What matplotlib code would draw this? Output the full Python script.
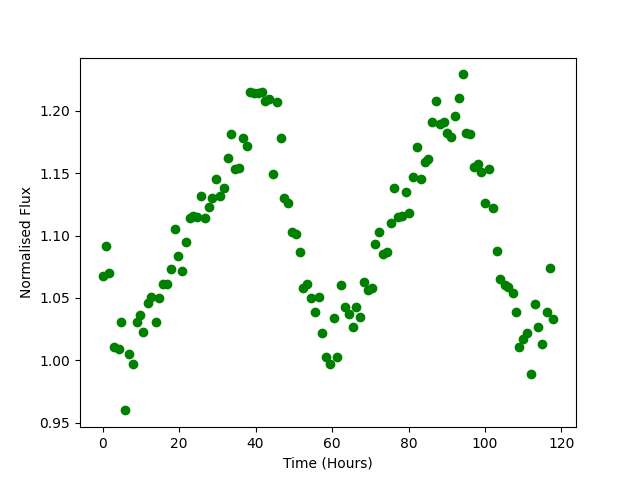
import matplotlib
matplotlib.use("Agg")
import matplotlib.pyplot as plt

# time (hours) and normalised flux
time = [0.0, 0.8, 1.8, 3.1, 4.2, 4.7, 5.8, 6.8, 7.9, 8.9,
        9.7, 10.7, 11.8, 12.8, 13.9, 14.7, 15.7, 16.8, 17.8, 18.9,
        19.6, 20.7, 21.7, 22.8, 23.6, 24.6, 25.7, 26.7, 27.8, 28.6,
        29.6, 30.7, 31.7, 32.7, 33.5, 34.6, 35.6, 36.7, 37.7, 38.5,
        39.6, 40.6, 41.7, 42.4, 43.5, 44.5, 45.6, 46.6, 47.4, 48.5,
        49.5, 50.6, 51.6, 52.4, 53.4, 54.5, 55.5, 56.6, 57.4, 58.4,
        59.5, 60.5, 61.3, 62.4, 63.4, 64.4, 65.5, 66.3, 67.3, 68.4,
        69.4, 70.5, 71.3, 72.3, 73.4, 74.4, 75.5, 76.2, 77.3, 78.3,
        79.4, 80.2, 81.2, 82.3, 83.3, 84.4, 85.1, 86.2, 87.2, 88.3,
        89.3, 90.1, 91.2, 92.2, 93.3, 94.3, 95.1, 96.1, 97.2, 98.2,
        99.0, 100.1, 101.1, 102.2, 103.2, 104.0, 105.1, 106.1, 107.2, 108.2,
        109.0, 110.0, 111.1, 112.1, 113.2, 113.9, 115.0, 116.1, 117.1, 117.9]
flux = [1.068, 1.092, 1.070, 1.011, 1.009, 1.031, 0.960, 1.005, 0.997, 1.031,
        1.036, 1.023, 1.046, 1.051, 1.031, 1.050, 1.061, 1.061, 1.073, 1.105,
        1.084, 1.072, 1.095, 1.114, 1.116, 1.115, 1.132, 1.114, 1.123, 1.130,
        1.145, 1.132, 1.138, 1.162, 1.181, 1.153, 1.154, 1.178, 1.172, 1.215,
        1.214, 1.214, 1.215, 1.208, 1.209, 1.149, 1.207, 1.178, 1.130, 1.126,
        1.103, 1.101, 1.087, 1.058, 1.061, 1.050, 1.039, 1.051, 1.022, 1.003,
        0.997, 1.034, 1.003, 1.060, 1.043, 1.037, 1.027, 1.043, 1.035, 1.063,
        1.056, 1.058, 1.093, 1.103, 1.085, 1.087, 1.110, 1.138, 1.115, 1.116,
        1.135, 1.118, 1.147, 1.171, 1.145, 1.159, 1.161, 1.191, 1.208, 1.189,
        1.191, 1.182, 1.179, 1.196, 1.210, 1.229, 1.182, 1.181, 1.155, 1.157,
        1.151, 1.126, 1.153, 1.122, 1.088, 1.065, 1.060, 1.059, 1.054, 1.039,
        1.011, 1.017, 1.022, 0.989, 1.045, 1.027, 1.013, 1.039, 1.074, 1.033]

fig, ax = plt.subplots(figsize=(6.4, 4.8), dpi=100)
ax.plot(time, flux, 'o', color='green')
ax.set_xlabel('Time (Hours)')
ax.set_ylabel('Normalised Flux')

fig.savefig('out.png')
